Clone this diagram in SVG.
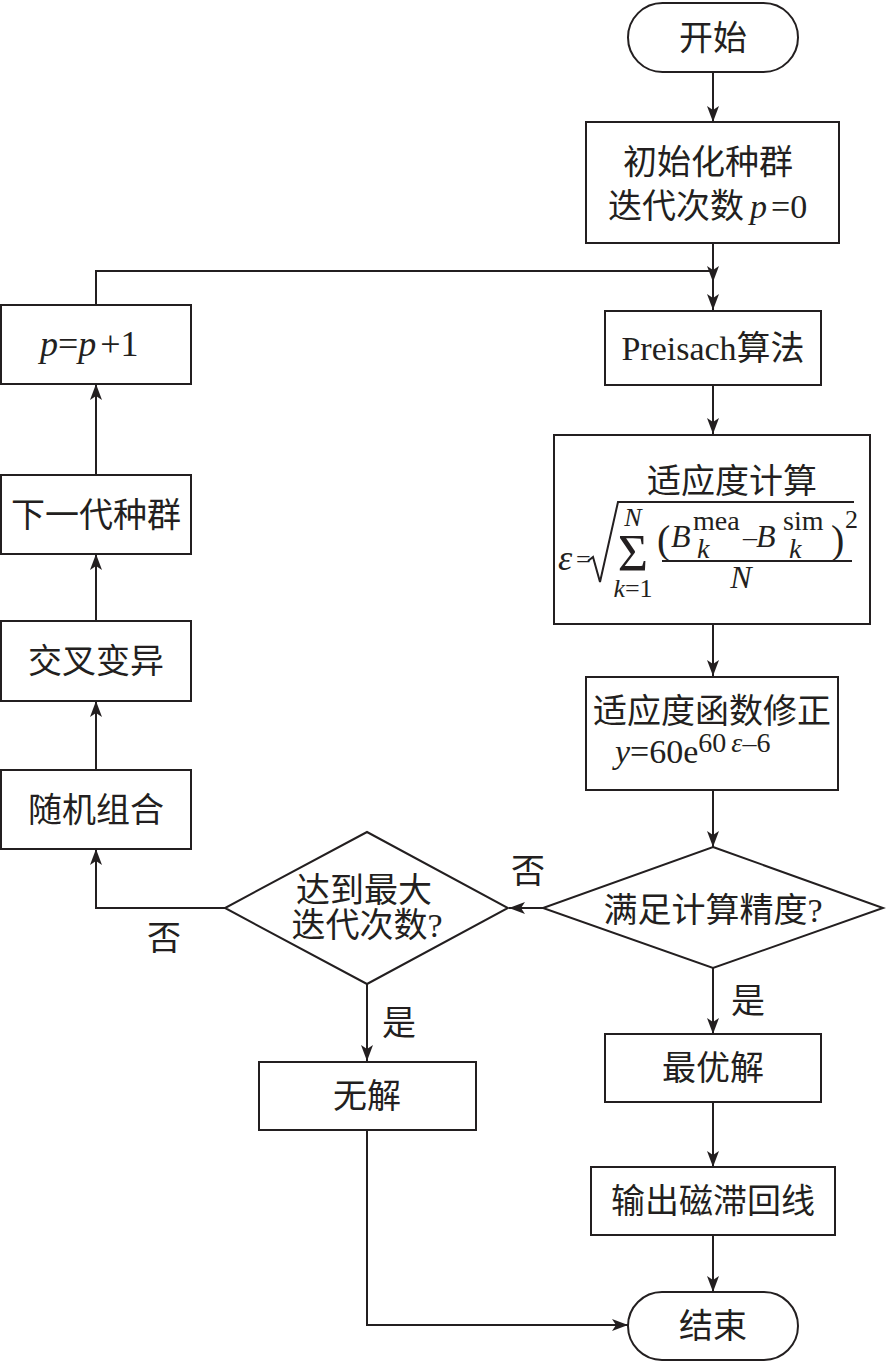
<svg xmlns="http://www.w3.org/2000/svg" width="888" height="1364" viewBox="0 0 888 1364">
<style>
.b{fill:#fff;stroke:#231f20;stroke-width:2}
.c{fill:none;stroke:#231f20;stroke-width:2}
text{font-family:"Liberation Serif","Noto Sans CJK SC",serif;fill:#231f20;font-size:34px}
.t{text-anchor:middle}
.i{font-style:italic}
.s22{font-size:22px}
.s24{font-size:24px}
.s26{font-size:26px}
.s28{font-size:28px}
.s32{font-size:32px}
.s36{font-size:36px}
.s40{font-size:40px}
.s52{font-size:52px}
</style>
<defs>
<marker id="a" viewBox="0 0 16 12" refX="16" refY="6" markerWidth="16" markerHeight="12" markerUnits="userSpaceOnUse" orient="auto">
<path d="M0,0 L16,6 L0,12 L4,6 Z" fill="#231f20"/>
</marker>
</defs>
<rect width="888" height="1364" fill="#fff"/>
<g id="connectors">
<path class="c" d="M713,72 V122" marker-end="url(#a)"/>
<path class="c" d="M713,243 V310" marker-end="url(#a)"/>
<path class="c" d="M96,305 V271 H713"/>
<path class="c" d="M713,271 V282" marker-end="url(#a)"/>
<path class="c" d="M713,385 V434" marker-end="url(#a)"/>
<path class="c" d="M713,624 V676" marker-end="url(#a)"/>
<path class="c" d="M713,790 V847" marker-end="url(#a)"/>
<path class="c" d="M543,908 H509" marker-end="url(#a)"/>
<path class="c" d="M713,968 V1034" marker-end="url(#a)"/>
<path class="c" d="M713,1102 V1167" marker-end="url(#a)"/>
<path class="c" d="M713,1235 V1292" marker-end="url(#a)"/>
<path class="c" d="M225,908 H96 V849" marker-end="url(#a)"/>
<path class="c" d="M96,770 V701" marker-end="url(#a)"/>
<path class="c" d="M96,621 V554" marker-end="url(#a)"/>
<path class="c" d="M96,475 V384" marker-end="url(#a)"/>
<path class="c" d="M367,984 V1061" marker-end="url(#a)"/>
<path class="c" d="M367,1130 V1325 H628" marker-end="url(#a)"/>
<text x="528" y="883" class="t">否</text>
<text x="164" y="950" class="t">否</text>
<text x="748" y="1013" class="t">是</text>
<text x="399" y="1035" class="t">是</text>
</g>
<g id="start">
<rect class="b" x="628" y="3" width="170" height="69" rx="34.5"/>
<text x="713" y="50" class="t">开始</text>
</g>
<g id="init">
<rect class="b" x="586" y="122" width="253" height="121"/>
<text x="708" y="174" class="t">初始化种群</text>
<text x="608" y="218">迭代次数<tspan class="i" dx="6">p</tspan><tspan dx="4">=0</tspan></text>
</g>
<g id="preisach">
<rect class="b" x="605" y="311" width="216" height="74"/>
<text x="713" y="360" class="t">Preisach算法</text>
</g>
<g id="fitness">
<rect class="b" x="554" y="435" width="316" height="189"/>
<text x="732" y="493" class="t">适应度计算</text>
<text x="558" y="570" class="i s36">ε</text>
<text x="576" y="568" class="s26">=</text>
<path class="c" d="M588,561 L593,557 L600,582 L618,502 L854,502" stroke-width="1.6"/>
<text x="633" y="571" class="t s52">Σ</text>
<text x="633" y="526" class="t i s26">N</text>
<text x="633" y="597" class="t s26"><tspan class="i">k</tspan>=1</text>
<text x="657" y="553" class="s40">(</text>
<text x="671" y="547" class="i s32">B</text>
<text x="693" y="530" class="s28">mea</text>
<text x="697" y="558" class="i s28">k</text>
<text x="743" y="546" class="s28">–</text>
<text x="756" y="547" class="i s32">B</text>
<text x="783" y="530" class="s28">sim</text>
<text x="789" y="558" class="i s28">k</text>
<text x="831" y="553" class="s40">)</text>
<text x="845" y="528" class="s26">2</text>
<path class="c" d="M662,561 H852" stroke-width="1.6"/>
<text x="741" y="588" class="t i s32">N</text>
</g>
<g id="correction">
<rect class="b" x="586" y="677" width="252" height="113"/>
<text x="712" y="723" class="t">适应度函数修正</text>
<text x="615" y="763"><tspan class="i">y</tspan>=60e<tspan dy="-11" class="s28">60</tspan><tspan class="i s28" dx="5">ε</tspan><tspan class="s28">–6</tspan></text>
</g>
<g id="check">
<polygon class="b" points="713,847 883,908 713,968 543,908"/>
<text x="713" y="922" class="t">满足计算精度?</text>
</g>
<g id="maxiter">
<polygon class="b" points="367,832 508,908 367,984 225,908"/>
<text x="364" y="902" class="t">达到最大</text>
<text x="367" y="937" class="t">迭代次数?</text>
</g>
<g id="best">
<rect class="b" x="605" y="1034" width="216" height="68"/>
<text x="713" y="1080" class="t">最优解</text>
</g>
<g id="output">
<rect class="b" x="591" y="1167" width="244" height="68"/>
<text x="713" y="1213" class="t">输出磁滞回线</text>
</g>
<g id="end">
<rect class="b" x="628" y="1292" width="170" height="68" rx="34"/>
<text x="713" y="1338" class="t">结束</text>
</g>
<g id="nosol">
<rect class="b" x="259" y="1062" width="217" height="68"/>
<text x="367" y="1108" class="t">无解</text>
</g>
<g id="pinc">
<rect class="b" x="1" y="305" width="190" height="79"/>
<text x="40" y="356" class="s36"><tspan class="i">p</tspan>=<tspan class="i">p</tspan><tspan dx="4">+1</tspan></text>
</g>
<g id="nextgen">
<rect class="b" x="1" y="475" width="190" height="79"/>
<text x="96" y="527" class="t">下一代种群</text>
</g>
<g id="crossover">
<rect class="b" x="1" y="621" width="190" height="80"/>
<text x="96" y="673" class="t">交叉变异</text>
</g>
<g id="random">
<rect class="b" x="1" y="770" width="190" height="79"/>
<text x="96" y="822" class="t">随机组合</text>
</g>
</svg>
